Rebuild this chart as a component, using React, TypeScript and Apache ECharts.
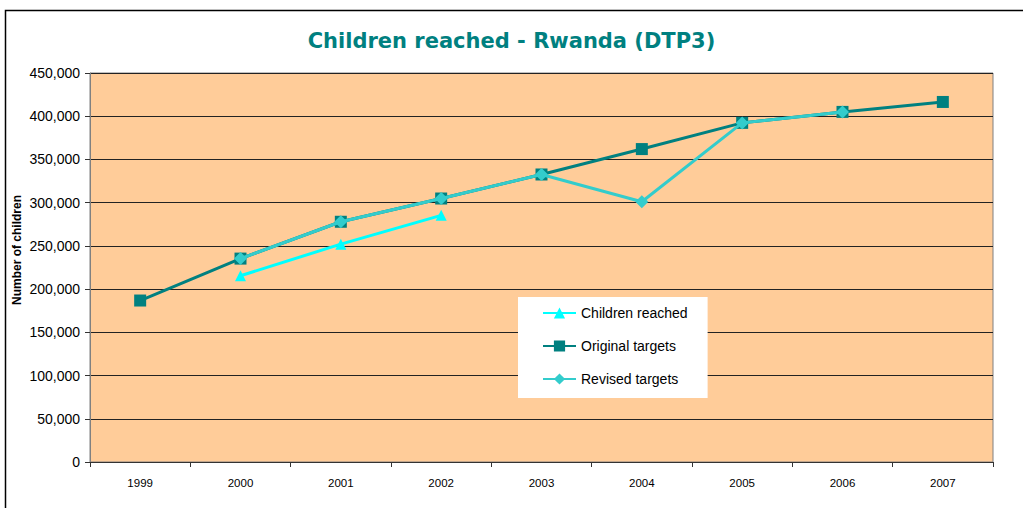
import React, { useEffect, useRef } from "react";
import * as echarts from "echarts";

const years = ["1999", "2000", "2001", "2002", "2003", "2004", "2005", "2006", "2007"];
const childrenReached = [null, 215500, 252000, 285300, null, null, null, null, null];
const originalTargets = [186800, 235300, 277900, 304800, 332600, 362000, 392300, 405000, 416500];
const revisedTargets = [null, 235300, 277900, 304800, 332600, 301100, 392300, 405000, null];

export default function App() {
  const ref = useRef<HTMLDivElement>(null);
  useEffect(() => {
    if (!ref.current) return;
    const chart = echarts.init(ref.current, undefined, { renderer: "svg" });
    const base = "'Liberation Sans', Arial, sans-serif";
    chart.setOption({
      animation: false,
      backgroundColor: "#ffffff",
      title: {
        text: "Children reached - Rwanda (DTP3)",
        left: "center",
        top: 25,
        textStyle: {
          fontFamily: "'DejaVu Sans', Verdana, sans-serif",
          fontWeight: "bold",
          fontSize: 21,
          color: "#008080",
        },
      },
      graphic: [
        {
          type: "rect",
          shape: { x: 5.5, y: 10.5, width: 1100, height: 600 },
          style: { fill: "none", stroke: "#000", lineWidth: 1.5 },
          silent: true,
          z: 0,
        },
        {
          type: "text",
          x: 17,
          y: 250,
          rotation: Math.PI / 2,
          style: {
            text: "Number of children",
            fontFamily: base,
            fontWeight: "bold",
            fontSize: 12,
            fill: "#000",
            align: "center",
            verticalAlign: "middle",
          },
        },
      ],
      legend: {
        data: ["Children reached", "Original targets", "Revised targets"],
        orient: "vertical",
        left: 518,
        top: 297,
        padding: [9, 20, 12, 24],
        itemGap: 19,
        itemWidth: 33,
        itemHeight: 14,
        backgroundColor: "#ffffff",
        textStyle: { fontFamily: base, fontSize: 14, color: "#000" },
      },
      grid: {
        left: 90,
        right: 30,
        top: 73,
        bottom: 46,
        show: true,
        backgroundColor: "#FFCC99",
        borderColor: "#808080",
        borderWidth: 1,
      },
      xAxis: {
        type: "category",
        data: years,
        boundaryGap: true,
        axisLine: { lineStyle: { color: "#333", width: 1 } },
        axisTick: { show: true, alignWithLabel: false, length: 5, lineStyle: { color: "#333" } },
        axisLabel: {
          margin: 15,
          fontFamily: base,
          fontSize: 11.5,
          color: "#000",
        },
      },
      yAxis: {
        type: "value",
        min: 0,
        max: 450000,
        interval: 50000,
        axisLine: { show: true, lineStyle: { color: "#808080", width: 1 } },
        axisTick: { show: true, length: 5, lineStyle: { color: "#333" } },
        axisLabel: {
          margin: 10,
          fontFamily: base,
          fontSize: 14,
          color: "#000",
          formatter: (v: number) => v.toLocaleString("en-US"),
        },
        splitLine: { show: true, lineStyle: { color: "#222", width: 1 } },
      },
      series: [
        {
          name: "Children reached",
          type: "line",
          data: childrenReached,
          symbol: "triangle",
          symbolSize: 11,
          itemStyle: { color: "#00FFFF" },
          lineStyle: { color: "#00FFFF", width: 3 },
          z: 3,
        },
        {
          name: "Original targets",
          type: "line",
          data: originalTargets,
          symbol: "rect",
          symbolSize: 12,
          itemStyle: { color: "#008080" },
          lineStyle: { color: "#008080", width: 3 },
          z: 2,
        },
        {
          name: "Revised targets",
          type: "line",
          data: revisedTargets,
          symbol: "diamond",
          symbolSize: 13,
          itemStyle: { color: "#33CCCC" },
          lineStyle: { color: "#33CCCC", width: 3 },
          z: 4,
        },
      ],
    });
    return () => chart.dispose();
  }, []);
  return (
    <div
      ref={ref}
      style={{ position: "absolute", left: 0, top: 0, width: 1023, height: 508 }}
    />
  );
}
